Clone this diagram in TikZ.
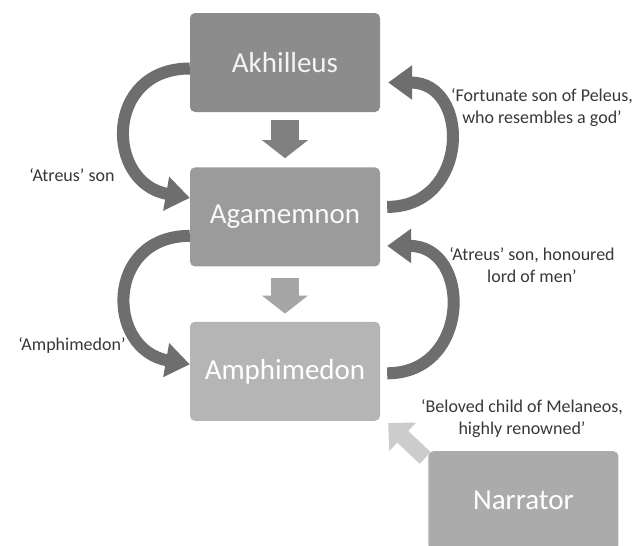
\documentclass[tikz,border=0pt]{standalone}
\usepackage{fontspec}
\setmainfont{Carlito}
\usetikzlibrary{arrows.meta,positioning}
\definecolor{akhgray}{HTML}{8C8C8C}
\definecolor{agagray}{HTML}{9B9B9B}
\definecolor{amphgray}{HTML}{B5B5B5}
\definecolor{narrgray}{HTML}{ABABAB}
\definecolor{arcgray}{HTML}{6E6E6E}
\definecolor{textgray}{HTML}{383838}

\begin{document}
\begin{tikzpicture}[x=1pt, y=1pt, node distance=55pt,
	person/.style={rounded corners=5pt, minimum width=190pt, minimum height=99pt, inner sep=0pt, font=\fontsize{29}{35}\selectfont},
	epithet/.style={align=center, text=textgray, font=\fontsize{18}{22}\selectfont},
	curved/.style={draw=arcgray, line width=12pt, -{Triangle[length=24pt,width=33pt]}},
	blockdown/.style={line width=28pt, -{Triangle[length=18pt,width=45pt]}}]
	\useasboundingbox[fill=white] (0,0) rectangle (633,-546);
	\node[person, fill=akhgray, text=white!90!akhgray] (akh) at (285,-62.5) {Akhilleus};
	\node[person, fill=agagray, text=white!94!agagray, below=of akh] (aga) {Agamemnon};
	\node[person, fill=amphgray, text=white, below=of aga] (amph) {Amphimedon};
	\node[person, fill=narrgray, text=white, below right=30pt and 48pt of amph] (nar) {Narrator};
	\draw[blockdown, draw=black!50] (akh.south) [shorten <=8pt, shorten >=9pt] -- (aga.north);
	\draw[blockdown, draw=black!35] (aga.south) [shorten <=11pt, shorten >=8pt] -- (amph.north);
	\draw[line width=16pt, draw=black!20, -{Triangle[length=20pt,width=38pt]}] ([xshift=-3pt,yshift=-7pt]nar.north west) -- ([xshift=8pt,yshift=-2pt]amph.south east);
	\draw[curved] ([yshift=-6pt]akh.west) to[out=180, in=170, looseness=1.7] ([yshift=19pt]aga.west);
	\draw[curved] ([yshift=-19pt]aga.west) to[out=180, in=170, looseness=1.7] ([yshift=7pt]amph.west);
	\draw[curved] ([xshift=7pt,yshift=10pt]aga.east) to[out=0, in=0, looseness=1.7] ([xshift=8pt,yshift=-20pt]akh.east);
	\draw[curved] ([xshift=7pt,yshift=-2pt]amph.east) to[out=0, in=0, looseness=1.7] ([xshift=7pt,yshift=-29pt]aga.east);
	\node[epithet] (atreus) at (72,-175) {`Atreus' son};
	\node[epithet] (amphname) at (72,-345) {`Amphimedon'};
	\node[epithet] (fortunate) at (542,-108) {`Fortunate son of Peleus,\\who resembles a god'};
	\node[epithet] (honoured) at (532,-265) {`Atreus' son, honoured\\lord of men'};
	\node[epithet] (beloved) at (522,-419) {`Beloved child of Melaneos,\\highly renowned'};
\end{tikzpicture}
\end{document}
